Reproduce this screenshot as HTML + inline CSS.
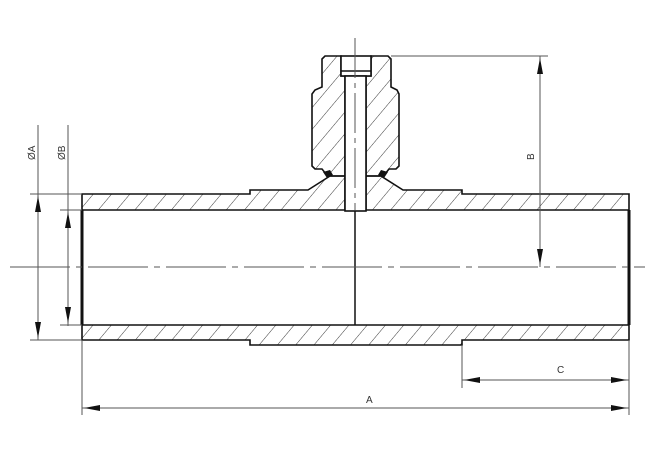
<!DOCTYPE html>
<html><head><meta charset="utf-8"><style>html,body{margin:0;padding:0;background:#fff}svg{display:block}</style></head>
<body>
<svg width="660" height="460" viewBox="0 0 660 460" xmlns="http://www.w3.org/2000/svg" font-family="Liberation Sans, sans-serif">
<defs>
<pattern id="h" patternUnits="userSpaceOnUse" width="14" height="14" patternTransform="rotate(40)">
<line x1="0" y1="0" x2="0" y2="14" stroke="#222" stroke-width="0.9"/>
</pattern>
</defs>
<g stroke="#111" stroke-width="1.6" fill="url(#h)">
<path d="M82,194 L250,194 L250,190 L308,190 L330,176 L345,176 L345,210 L82,210 Z"/>
<path d="M366,210 L366,176 L381,176 L403,190 L462,190 L462,194 L629,194 L629,210 Z"/>
<path d="M82,325 L629,325 L629,340 L462,340 L462,345 L250,345 L250,340 L82,340 Z"/>
<path d="M341,56 L325,56 L322,59 L322,87 L315,90 L312,94 L312,166 L315,169 L322,169 L326,174 L330,176 L345,176 L345,76 L341,76 Z"/>
<path d="M371,56 L388,56 L391,59 L391,87 L397,90 L399,94 L399,166 L396,169 L389,169 L385,174 L381,176 L366,176 L366,76 L371,76 Z"/>
</g>
<g stroke="#111" stroke-width="1.6" fill="#fff">
<rect x="341" y="56" width="30" height="20"/>
<line x1="341" y1="71" x2="371" y2="71"/>
<rect x="345" y="76" width="21" height="135"/>
</g>
<g fill="#111">
<path d="M323,172 L330,170 L333,175 L327,178 Z"/>
<path d="M388,172 L381,170 L378,175 L384,178 Z"/>
</g>
<line x1="82" y1="210" x2="82" y2="325" stroke="#111" stroke-width="3"/>
<line x1="629" y1="210" x2="629" y2="325" stroke="#111" stroke-width="3"/>
<line x1="355" y1="211" x2="355" y2="325" stroke="#111" stroke-width="1.5"/>
<g stroke="#555" stroke-width="1">
<line x1="10" y1="267" x2="645" y2="267" stroke-dasharray="60,6,6,6"/>
<line x1="355" y1="38" x2="355" y2="210" stroke-dasharray="40,5,5,5"/>
</g>
<g stroke="#555" stroke-width="1" fill="none">
<line x1="38" y1="125" x2="38" y2="340"/>
<line x1="68" y1="125" x2="68" y2="326"/>
<line x1="30" y1="194" x2="82" y2="194"/>
<line x1="60" y1="210" x2="82" y2="210"/>
<line x1="60" y1="325" x2="82" y2="325"/>
<line x1="30" y1="340" x2="82" y2="340"/>
<line x1="391" y1="56" x2="548" y2="56"/>
<line x1="540" y1="56" x2="540" y2="267"/>
<line x1="82" y1="340" x2="82" y2="415"/>
<line x1="629" y1="340" x2="629" y2="415"/>
<line x1="462" y1="345" x2="462" y2="388"/>
<line x1="462" y1="380" x2="629" y2="380"/>
<line x1="82" y1="408" x2="629" y2="408"/>
</g>
<g fill="#111">
<path d="M38,196 L35,212 L41,212 Z"/>
<path d="M38,338 L35,322 L41,322 Z"/>
<path d="M68,212 L65,228 L71,228 Z"/>
<path d="M68,323 L65,307 L71,307 Z"/>
<path d="M540,58 L537,74 L543,74 Z"/>
<path d="M540,265 L537,249 L543,249 Z"/>
<path d="M464,380 L480,377 L480,383 Z"/>
<path d="M627,380 L611,377 L611,383 Z"/>
<path d="M84,408 L100,405 L100,411 Z"/>
<path d="M627,408 L611,405 L611,411 Z"/>
</g>
<g font-size="10" fill="#333">
<text x="0" y="0" transform="translate(35,160) rotate(-90)">ØA</text>
<text x="0" y="0" transform="translate(65,160) rotate(-90)">ØB</text>
<text x="0" y="0" transform="translate(534,160) rotate(-90)">B</text>
<text x="557" y="373">C</text>
<text x="366" y="403">A</text>
</g>
</svg>
</body></html>
